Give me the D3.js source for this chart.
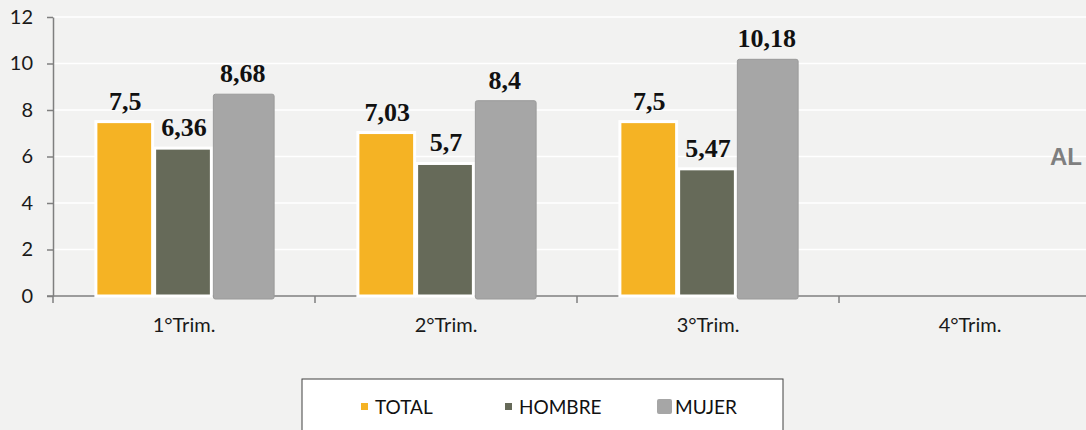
<!DOCTYPE html>
<html>
<head>
<meta charset="utf-8">
<script src="https://cdn.jsdelivr.net/npm/d3@7"></script>
<style>
  html, body { margin: 0; padding: 0; background: #f2f2f1; overflow: hidden; }
  svg { display: block; }
</style>
</head>
<body>
<div id="chart"></div>
<script>
"use strict";

// Chart data
var categories = ["1°Trim.", "2°Trim.", "3°Trim.", "4°Trim."],
	seriesNames = ["TOTAL", "HOMBRE", "MUJER"],
	totalValues = [7.5, 7.03, 7.5, null],
	hombreValues = [6.36, 5.7, 5.47, null],
	mujerValues = [8.68, 8.4, 10.18, null],
	yTicks = [0, 2, 4, 6, 8, 10, 12];

var seriesColors = ["#f5b324", "#666a59", "#a6a6a6"];

// Dimensions
var width = 1086,
	height = 430,
	margin = { top: 17, left: 53, bottom: 134 },
	plotRight = 1101,
	plotBottom = height - margin.bottom;

var svg = d3.select("#chart").append("svg")
	.attr("width", width)
	.attr("height", height);

svg.append("rect")
	.attr("width", width)
	.attr("height", height)
	.attr("fill", "#f2f2f1");

// Scales
var y = d3.scaleLinear()
	.domain([0, 12])
	.range([plotBottom, margin.top]);

var x0 = d3.scaleBand()
	.domain(categories)
	.range([margin.left, plotRight]);

var x1 = d3.scaleBand()
	.domain(seriesNames)
	.range([0, x0.bandwidth()])
	.paddingInner(0)
	.paddingOuter(0.73);

// Grid lines
svg.append("g")
	.selectAll("line")
	.data(yTicks.filter(function (d) { return d > 0; }))
	.enter().append("line")
	.attr("x1", margin.left)
	.attr("x2", plotRight)
	.attr("y1", function (d) { return y(d); })
	.attr("y2", function (d) { return y(d); })
	.attr("stroke", "#ffffff")
	.attr("stroke-width", 1.5);

// Y axis
var yAxis = d3.axisLeft(y)
	.tickValues(yTicks)
	.tickSize(6)
	.tickSizeOuter(0)
	.tickPadding(14);

var yG = svg.append("g")
	.attr("transform", "translate(" + margin.left + ",0)")
	.call(yAxis);
yG.select(".domain").attr("stroke", "#7f7f7f").attr("stroke-width", 1.5);
yG.selectAll(".tick line").attr("stroke", "#7f7f7f").attr("stroke-width", 1.5);
yG.selectAll(".tick text")
	.attr("fill", "#1a1a1a")
	.style("font-family", "Lato, 'Open Sans', sans-serif")
	.style("font-size", "20px");

// X axis line and category boundary ticks
svg.append("line")
	.attr("x1", margin.left - 6)
	.attr("x2", plotRight)
	.attr("y1", y(0))
	.attr("y2", y(0))
	.attr("stroke", "#7f7f7f")
	.attr("stroke-width", 1.5);

var boundaries = categories.map(function (c) { return x0(c); });
boundaries.push(x0(categories[categories.length - 1]) + x0.bandwidth());
svg.append("g")
	.selectAll("line")
	.data(boundaries)
	.enter().append("line")
	.attr("x1", function (d) { return d; })
	.attr("x2", function (d) { return d; })
	.attr("y1", y(0))
	.attr("y2", y(0) + 7)
	.attr("stroke", "#7f7f7f")
	.attr("stroke-width", 1.5);

var xAxis = d3.axisBottom(x0)
	.tickSize(0)
	.tickPadding(22);
var xG = svg.append("g")
	.attr("transform", "translate(0," + y(0) + ")")
	.call(xAxis);
xG.select(".domain").remove();
xG.selectAll(".tick text")
	.attr("fill", "#1a1a1a")
	.style("font-family", "Lato, 'Open Sans', sans-serif")
	.style("font-size", "20px");

// Bars
var seriesValues = [totalValues, hombreValues, mujerValues];
var barData = [];
categories.forEach(function (c, i) {
	seriesNames.forEach(function (s, j) {
		if (seriesValues[j][i] !== null) {
			barData.push({ cat: c, series: s, idx: j, value: seriesValues[j][i] });
		}
	});
});

var bars = svg.append("g");
bars.selectAll("rect")
	.data(barData)
	.enter().append("rect")
	.attr("x", function (d) { return x0(d.cat) + x1(d.series); })
	.attr("y", function (d) { return y(d.value); })
	.attr("width", function (d) { return d.idx === 2 ? x1.bandwidth() + 2 : x1.bandwidth() - 2; })
	.attr("height", function (d) { return y(0) - y(d.value) + (d.idx === 2 ? 3 : 0); })
	.attr("rx", function (d) { return d.idx === 2 ? 2 : 0; })
	.attr("fill", function (d) { return seriesColors[d.idx]; })
	.attr("stroke", function (d) { return d.idx === 2 ? "#9a9a9a" : "#ffffff"; })
	.attr("stroke-width", function (d) { return d.idx === 2 ? 1 : 3; });

// Value labels
bars.selectAll("text")
	.data(barData)
	.enter().append("text")
	.attr("x", function (d) { return x0(d.cat) + x1(d.series) + x1.bandwidth() / 2; })
	.attr("y", function (d) { return y(d.value) - 12; })
	.attr("text-anchor", "middle")
	.attr("fill", "#111111")
	.style("font-family", "'Times New Roman', 'Liberation Serif', Times, serif")
	.style("font-weight", "bold")
	.style("font-size", "26px")
	.text(function (d) { return String(d.value).replace(".", ","); });

// Clipped title fragment on the right
svg.append("text")
	.attr("x", 1050)
	.attr("y", 165)
	.attr("fill", "#7f7f7f")
	.style("font-family", "'Liberation Sans', Arial, sans-serif")
	.style("font-weight", "bold")
	.style("font-size", "24px")
	.text("AL");

// Legend
var legend = svg.append("g");
legend.append("rect")
	.attr("x", 302)
	.attr("y", 379)
	.attr("width", 481)
	.attr("height", 70)
	.attr("fill", "#ffffff")
	.attr("stroke", "#404040")
	.attr("stroke-width", 1);

var legendX = [361, 505, 657],
	markerSize = [7, 7, 15];
seriesNames.forEach(function (s, i) {
	legend.append("rect")
		.attr("x", legendX[i])
		.attr("y", 406.5 - markerSize[i] / 2)
		.attr("width", markerSize[i])
		.attr("height", markerSize[i])
		.attr("rx", i === 2 ? 2 : 0)
		.attr("fill", seriesColors[i]);
	legend.append("text")
		.attr("x", legendX[i] + markerSize[i] + (i === 2 ? 3 : 7))
		.attr("y", 413.5)
		.attr("fill", "#111111")
		.style("font-family", "Lato, 'Open Sans', sans-serif")
		.style("font-size", "19px")
		.text(s);
});
</script>
</body>
</html>
